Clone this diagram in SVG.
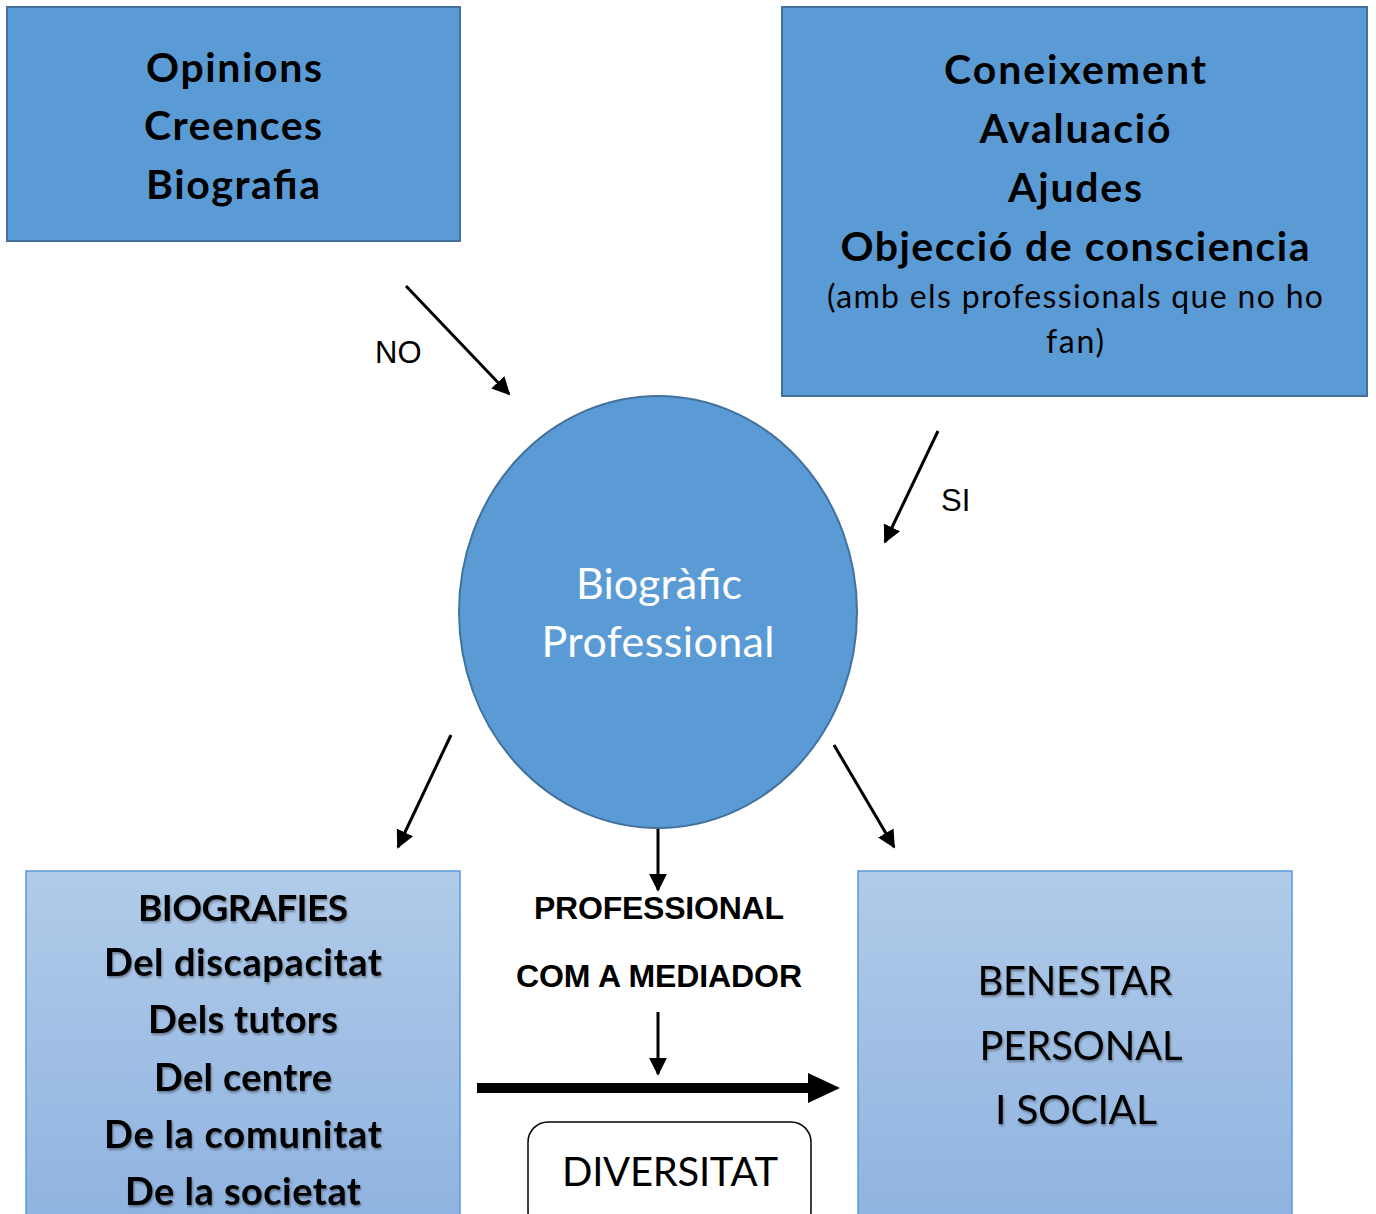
<svg xmlns="http://www.w3.org/2000/svg" width="1376" height="1214" viewBox="0 0 1376 1214">
<style>
.dark{fill:#5B9BD5;stroke:#41719C;stroke-width:2}
.light{fill:url(#g);stroke:#5B9BD5;stroke-width:1.5}
.cb{font-family:Lato,"Liberation Sans",sans-serif;font-weight:bold;font-size:41px;fill:#000;text-anchor:middle}
.cb2{font-family:Lato,"Liberation Sans",sans-serif;font-weight:bold;font-size:38px;fill:#000;text-anchor:middle}
.cr{font-family:Lato,"Liberation Sans",sans-serif;font-size:32px;fill:#000;text-anchor:middle}
.ar{font-family:"Liberation Sans",Arial,sans-serif;font-size:31px;fill:#000}
.arb{font-family:"Liberation Sans",Arial,sans-serif;font-weight:bold;font-size:32px;fill:#000;text-anchor:middle}
.big{font-family:Lato,"Liberation Sans",sans-serif;font-size:43px;text-anchor:middle}
.cap{font-family:Lato,"Liberation Sans",sans-serif;font-size:40px;text-anchor:middle;fill:#000}
.con{stroke:#000;stroke-width:3;fill:none;marker-end:url(#ah)}
</style>
<defs>
<linearGradient id="g" x1="0" y1="0" x2="0" y2="1">
<stop offset="0" stop-color="#B1CBE9"/>
<stop offset="1" stop-color="#8FB3E0"/>
</linearGradient>
<marker id="ah" viewBox="0 0 10 10" refX="9" refY="5" markerWidth="6" markerHeight="6" orient="auto" markerUnits="strokeWidth">
<path d="M0,0 L10,5 L0,10 z" fill="#000"/>
</marker>
<filter id="sh" x="-10%" y="-10%" width="120%" height="130%">
<feDropShadow dx="1" dy="2" stdDeviation="1" flood-color="#000" flood-opacity="0.35"/>
</filter>
</defs>
<rect width="1376" height="1214" fill="#fff"/>

<g id="connectors">
<line class="con" x1="406" y1="286" x2="509" y2="394"/>
<line class="con" x1="938" y1="431" x2="885" y2="542"/>
<line class="con" x1="451" y1="735" x2="398" y2="847"/>
<line class="con" x1="834" y1="745" x2="894" y2="847"/>
<line class="con" x1="658" y1="828" x2="658" y2="890"/>
<line class="con" x1="658" y1="1012" x2="658" y2="1074"/>
<line x1="477" y1="1088" x2="810" y2="1088" stroke="#000" stroke-width="10"/>
<path d="M808,1073 L840,1088 L808,1103 z" fill="#000"/>
<text class="ar" x="375" y="363">NO</text>
<text class="ar" x="941" y="511">SI</text>
</g>

<g id="node-opinions">
<rect class="dark" x="7" y="7" width="453" height="234"/>
<text class="cb" x="234" y="82" textLength="176">Opinions</text>
<text class="cb" x="233" y="140" textLength="178">Creences</text>
<text class="cb" x="233" y="199" textLength="174">Biografia</text>
</g>

<g id="node-coneixement">
<rect class="dark" x="782" y="7" width="585" height="389"/>
<text class="cb" x="1075" y="84" textLength="262">Coneixement</text>
<text class="cb" x="1075" y="143" textLength="191">Avaluació</text>
<text class="cb" x="1075" y="202" textLength="134">Ajudes</text>
<text class="cb" x="1075" y="261" textLength="469">Objecció de consciencia</text>
<text class="cr" x="1075" y="308" textLength="496">(amb els professionals que no ho</text>
<text class="cr" x="1075" y="353" textLength="58">fan)</text>
</g>

<g id="node-biografic">
<ellipse class="dark" cx="658" cy="612" rx="199" ry="216"/>
<text class="big" x="659" y="599" fill="#fff" textLength="166">Biogràfic</text>
<text class="big" x="658" y="657" fill="#fff" textLength="233">Professional</text>
</g>

<g id="node-biografies">
<rect class="light" x="26" y="871" width="434" height="350"/>
<g filter="url(#sh)">
<text class="cb2" x="243" y="921" style="font-size:37px" textLength="210">BIOGRAFIES</text>
<text class="cb2" x="243" y="976" textLength="278">Del discapacitat</text>
<text class="cb2" x="243" y="1033" textLength="190">Dels tutors</text>
<text class="cb2" x="243" y="1091" textLength="178">Del centre</text>
<text class="cb2" x="243" y="1148" textLength="278">De la comunitat</text>
<text class="cb2" x="243" y="1205" textLength="236">De la societat</text>
</g>
</g>

<g id="node-mediador">
<text class="arb" x="659" y="919" textLength="250">PROFESSIONAL</text>
<text class="arb" x="659" y="987" textLength="286">COM A MEDIADOR</text>
</g>

<g id="node-diversitat">
<rect x="528" y="1122" width="283" height="110" rx="20" fill="#fff" stroke="#000" stroke-width="1.5"/>
<text class="cap" x="670" y="1186" textLength="216">DIVERSITAT</text>
</g>

<g id="node-benestar">
<rect class="light" x="858" y="871" width="434" height="350"/>
<g filter="url(#sh)">
<text class="cap" x="1075" y="995" textLength="195">BENESTAR</text>
<text class="cap" x="1081" y="1060" textLength="203">PERSONAL</text>
<text class="cap" x="1076" y="1124" style="font-size:41px" textLength="162">I SOCIAL</text>
</g>
</g>
</svg>
